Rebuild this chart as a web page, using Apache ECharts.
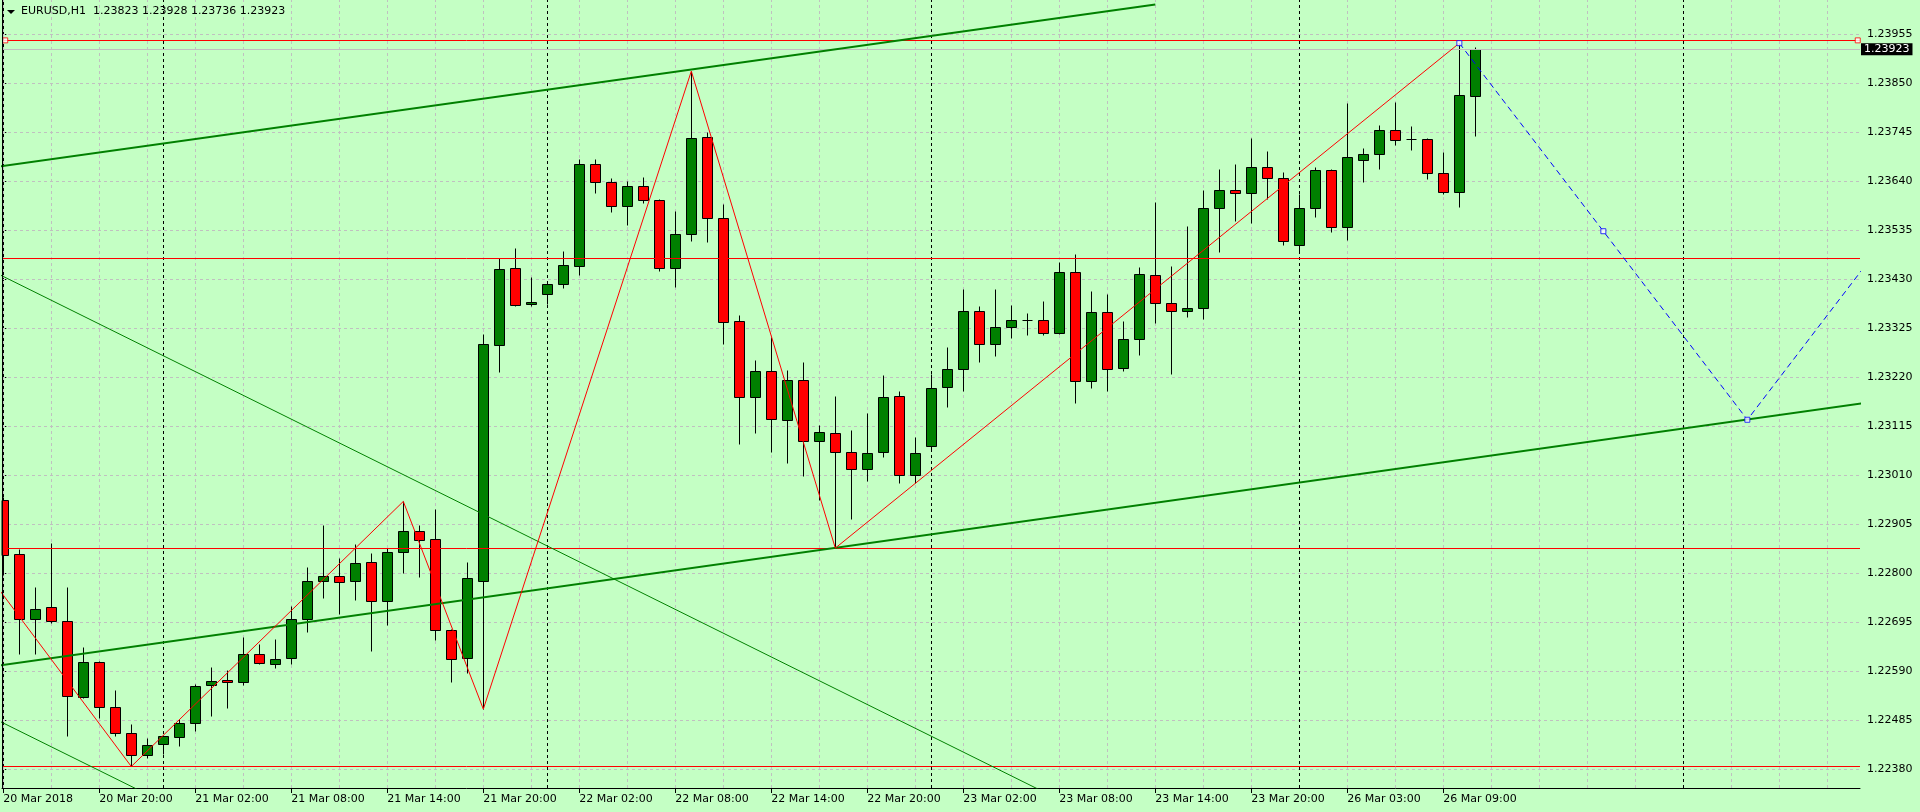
<!DOCTYPE html>
<html><head><meta charset="utf-8">
<script src="https://cdn.jsdelivr.net/npm/echarts@6/dist/echarts.min.js"></script>
<style>html,body{margin:0;padding:0;background:#C4FFC4;}#c{width:1920px;height:812px;}</style>
</head><body><div id="c"></div>
<script>
// ---- data (EURUSD H1, bar index 0 = 20 Mar 2018 14:00) ----
const opens = [1.22956,1.22841,1.22701,1.22727,1.22697,1.22534,1.22609,1.22513,1.22457,1.22410,
1.22434,1.22449,1.22479,1.22560,1.22571,1.22566,1.22626,1.22605,1.22618,1.22701,
1.22783,1.22794,1.22783,1.22824,1.22740,1.22845,1.22890,1.22873,1.22678,1.22618,
1.22783,1.23289,1.23454,1.23376,1.23398,1.23419,1.23458,1.23676,1.23638,1.23586,
1.23629,1.23599,1.23454,1.23526,1.23734,1.23561,1.23340,1.23177,1.23233,1.23128,
1.23214,1.23083,1.23100,1.23059,1.23023,1.23059,1.23179,1.23010,1.23072,1.23199,
1.23237,1.23361,1.23291,1.23327,1.23342,1.23342,1.23314,1.23445,1.23211,1.23359,
1.23239,1.23301,1.23439,1.23379,1.23361,1.23368,1.23582,1.23621,1.23614,1.23670,
1.23646,1.23503,1.23582,1.23664,1.23541,1.23685,1.23698,1.23749,1.23730,1.23730,
1.23657,1.23616,1.23823];
const highs = [1.22964,1.22852,1.22771,1.22864,1.22770,1.22641,1.22611,1.22549,1.22476,1.22446,
1.22453,1.22487,1.22562,1.22599,1.22592,1.22663,1.22648,1.22659,1.22729,1.22813,
1.22904,1.22832,1.22862,1.22843,1.22854,1.22954,1.22903,1.22937,1.22680,1.22824,
1.23312,1.23475,1.23496,1.23434,1.23425,1.23490,1.23687,1.23687,1.23646,1.23640,
1.23649,1.23601,1.23576,1.23876,1.23745,1.23591,1.23353,1.23256,1.23306,1.23235,
1.23252,1.23117,1.23180,1.23106,1.23143,1.23224,1.23190,1.23091,1.23226,1.23284,
1.23409,1.23372,1.23409,1.23374,1.23357,1.23383,1.23466,1.23484,1.23404,1.23398,
1.23340,1.23456,1.23595,1.23458,1.23544,1.23621,1.23666,1.23676,1.23732,1.23704,
1.23659,1.23612,1.23670,1.23666,1.23807,1.23711,1.23760,1.23809,1.23758,1.23732,
1.23702,1.23936,1.23928];
const lows = [1.22796,1.22626,1.22626,1.22693,1.22451,1.22532,1.22489,1.22451,1.22386,1.22404,
1.22412,1.22429,1.22461,1.22494,1.22512,1.22560,1.22605,1.22596,1.22605,1.22675,
1.22746,1.22712,1.22743,1.22634,1.22690,1.22801,1.22791,1.22658,1.22566,1.22587,
1.22509,1.23231,1.23372,1.23372,1.23376,1.23411,1.23439,1.23614,1.23574,1.23546,
1.23593,1.23447,1.23413,1.23511,1.23509,1.23291,1.23076,1.23100,1.23059,1.23036,
1.23008,1.22956,1.22854,1.22916,1.22997,1.23049,1.22993,1.22993,1.23066,1.23156,
1.23190,1.23252,1.23265,1.23304,1.23310,1.23310,1.23312,1.23164,1.23196,1.23190,
1.23233,1.23267,1.23336,1.23226,1.23349,1.23344,1.23488,1.23554,1.23550,1.23601,
1.23503,1.23486,1.23563,1.23531,1.23514,1.23638,1.23666,1.23717,1.23706,1.23644,
1.23612,1.23584,1.23736];
const closes = [1.22839,1.22701,1.22723,1.22697,1.22536,1.22609,1.22513,1.22457,1.22410,1.22431,
1.22451,1.22479,1.22558,1.22569,1.22566,1.22626,1.22607,1.22616,1.22701,1.22783,
1.22794,1.22781,1.22821,1.22740,1.22845,1.22890,1.22871,1.22678,1.22616,1.22789,
1.23291,1.23451,1.23374,1.23381,1.23419,1.23460,1.23676,1.23638,1.23586,1.23629,
1.23599,1.23454,1.23526,1.23732,1.23561,1.23338,1.23177,1.23233,1.23130,1.23214,
1.23083,1.23102,1.23059,1.23023,1.23057,1.23177,1.23010,1.23057,1.23196,1.23237,
1.23361,1.23291,1.23327,1.23342,1.23342,1.23314,1.23445,1.23211,1.23359,1.23237,
1.23301,1.23441,1.23379,1.23361,1.23368,1.23582,1.23621,1.23614,1.23670,1.23646,
1.23511,1.23582,1.23664,1.23541,1.23691,1.23698,1.23749,1.23728,1.23730,1.23657,
1.23616,1.23824,1.23923];

const timeLabelIdx = [0,6,12,18,24,30,36,42,48,54,60,66,72,78,84,90];
const timeLabels = ['20 Mar 2018','20 Mar 20:00','21 Mar 02:00','21 Mar 08:00','21 Mar 14:00',
  '21 Mar 20:00','22 Mar 02:00','22 Mar 08:00','22 Mar 14:00','22 Mar 20:00','23 Mar 02:00',
  '23 Mar 08:00','23 Mar 14:00','23 Mar 20:00','26 Mar 03:00','26 Mar 09:00'];
const priceTicks = [1.22380,1.22485,1.22590,1.22695,1.22800,1.22905,1.23010,1.23115,1.23220,
  1.23325,1.23430,1.23535,1.23640,1.23745,1.23850,1.23955];
const gridCols = [0,3,6,9,12,15,18,21,24,27,30,33,36,39,42,45,48,51,54,57,60,63,66,69,72,75,78,
  81,84,87,90,93,96,99,102,105,108,111,114];
const daySeparators = [10,34,58,81,105];
const levelLines = [1.23942,1.23475,1.22854,1.22386];
const levelHandles = [[0.12,1.23942],[115.9,1.23942]];
const bidPrice = 1.23923;
const headerText = 'EURUSD,H1  1.23823 1.23928 1.23736 1.23923';
const zigzag = [[-1,1.22799],[8,1.22386],[25,1.22954],[30,1.22509],[43,1.23876],[52,1.22854],[91,1.23936]];
const projection = [[91,1.23936],[100,1.23533],[109,1.23129],[127,1.23936]];
const projectionHandles = [[91,1.23936],[100,1.23533],[109,1.23129]];
const channelUpper = [[-1,1.23668],[72,1.24019]];
const channelLower = [[-1,1.22599],[117,1.23168]];
const fanLine1 = [[-1,1.23453],[70,1.22247]];
const fanLine2 = [[-1,1.22496],[25,1.22055]];

const X_MIN = -0.08125, X_MAX = 116.04;
const Y_MIN = 1.223399, Y_MAX = 1.240285;

const candles = opens.map((o,i)=>[i,o,closes[i],lows[i],highs[i]]);
const FONT = 'DejaVu Sans';

function renderCandle(params, api){
  const i = api.value(0), o = api.value(1), c = api.value(2), l = api.value(3), h = api.value(4);
  const pO = api.coord([i,o]), pC = api.coord([i,c]), pL = api.coord([i,l]), pH = api.coord([i,h]);
  const cx = Math.floor(pO[0]) + 0.5;
  const top = Math.round(Math.min(pO[1],pC[1])) + 0.5;
  const bot = Math.round(Math.max(pO[1],pC[1])) + 0.5;
  const cs = params.coordSys;
  const clipBox = {x:cs.x, y:cs.y, width:cs.width, height:cs.height};
  const children = [];
  if (cx >= cs.x) {
    children.push({type:'line', shape:{x1:cx, y1:Math.round(pH[1])+0.5, x2:cx, y2:Math.round(pL[1])+0.5},
      style:{stroke:'#000', lineWidth:1}});
  }
  if (bot - top < 1) {
    children.push({type:'line', shape:{x1:Math.max(cx-5,cs.x), y1:top, x2:cx+5, y2:top}, style:{stroke:'#000', lineWidth:1}});
  } else {
    const shape = echarts.graphic.clipRectByRect({x:cx-5, y:top, width:10, height:bot-top}, clipBox);
    if (shape) children.push({type:'rect', shape:shape,
      style:{fill: c > o ? '#008000' : '#FF0000', stroke:'#000', lineWidth:1}});
  }
  return {type:'group', children};
}

const chart = echarts.init(document.getElementById('c'), null, {renderer:'canvas'});
chart.setOption({
  animation:false,
  backgroundColor:'#C4FFC4',
  title:{text:headerText, left:21, top:6, padding:0,
    textStyle:{fontFamily:FONT, fontSize:11, fontWeight:'normal', color:'#000'}},
  graphic:[
    {type:'polygon', shape:{points:[[7,10],[15,10],[11,14]]}, style:{fill:'#000'}, z:100},
    {type:'line', shape:{x1:2.5, y1:0, x2:2.5, y2:788}, style:{stroke:'#000', lineWidth:1}, z:100}
  ],
  grid:{left:2, right:60, top:0, bottom:24, containLabel:false},
  xAxis:{type:'value', min:X_MIN, max:X_MAX,
    axisLine:{show:true, lineStyle:{color:'#000', width:1}},
    axisTick:{show:true, customValues:timeLabelIdx, length:5, lineStyle:{color:'#000'}},
    axisLabel:{show:true, customValues:timeLabelIdx, align:'left', margin:6, color:'#000',
      fontFamily:FONT, fontSize:11, hideOverlap:false,
      formatter:(v)=>timeLabels[timeLabelIdx.indexOf(Math.round(v))] || ''},
    splitLine:{show:false}},
  yAxis:{type:'value', position:'right', min:Y_MIN, max:Y_MAX, scale:true,
    axisLine:{show:true, lineStyle:{color:'#000', width:1}},
    axisTick:{show:true, customValues:priceTicks, length:3, lineStyle:{color:'#000'}},
    axisLabel:{show:true, customValues:priceTicks, margin:7, color:'#000', fontFamily:FONT, fontSize:11,
      formatter:(v)=>v.toFixed(5)},
    splitLine:{show:false}},
  series:[
    {type:'line', data:[], silent:true, z:1,
      markLine:{silent:true, z:1, precision:6, symbol:['none','none'], label:{show:false}, animation:false,
        lineStyle:{color:'#C0C0C0', type:[3,3], width:1},
        data: priceTicks.map(v=>({yAxis:v})).concat(gridCols.map(v=>({xAxis:v})))}},
    {type:'line', data:[], silent:true, z:2,
      markLine:{silent:true, z:2, precision:6, symbol:['none','none'], label:{show:false}, animation:false,
        lineStyle:{color:'#000', type:[3,3], width:1},
        data: daySeparators.map(v=>({xAxis:v}))}},
    {type:'custom', z:3, renderItem:renderCandle, data:candles, encode:{x:0, y:[1,2,3,4]}, silent:true},
    {type:'line', data:[], silent:true, z:4,
      markLine:{silent:true, z:4, precision:6, symbol:['none','none'], animation:false,
        data:[{yAxis:bidPrice, lineStyle:{color:'#C0C0C0', type:'solid', width:1},
          label:{show:true, position:'end', distance:1, formatter:bidPrice.toFixed(5),
            backgroundColor:'#000', color:'#fff', padding:[1,3,0,3], fontFamily:FONT, fontSize:11}}]
          .concat(levelLines.map(v=>({yAxis:v, lineStyle:{color:'#FF0000', type:'solid', width:1}, label:{show:false}})))}},
    {type:'line', data:channelUpper, showSymbol:false, silent:true, z:5, clip:true,
      lineStyle:{color:'#008000', width:2}},
    {type:'line', data:channelLower, showSymbol:false, silent:true, z:5, clip:true,
      lineStyle:{color:'#008000', width:2}},
    {type:'line', data:fanLine1, showSymbol:false, silent:true, z:5, clip:true,
      lineStyle:{color:'#008000', width:1}},
    {type:'line', data:fanLine2, showSymbol:false, silent:true, z:5, clip:true,
      lineStyle:{color:'#008000', width:1}},
    {type:'line', data:zigzag, showSymbol:false, silent:true, z:6, clip:true,
      lineStyle:{color:'#FF0000', width:1}},
    {type:'line', data:projection, showSymbol:false, silent:true, z:6, clip:true,
      lineStyle:{color:'#0000FF', width:1, type:[6,4]}},
    {type:'scatter', data:levelHandles, symbol:'rect', symbolSize:5, silent:true, z:7,
      itemStyle:{color:'#FFFFFF', borderColor:'#FF0000', borderWidth:1}},
    {type:'scatter', data:projectionHandles, symbol:'rect', symbolSize:5, silent:true, z:7,
      itemStyle:{color:'#FFFFFF', borderColor:'#0000FF', borderWidth:1}}
  ]
});
</script></body></html>
